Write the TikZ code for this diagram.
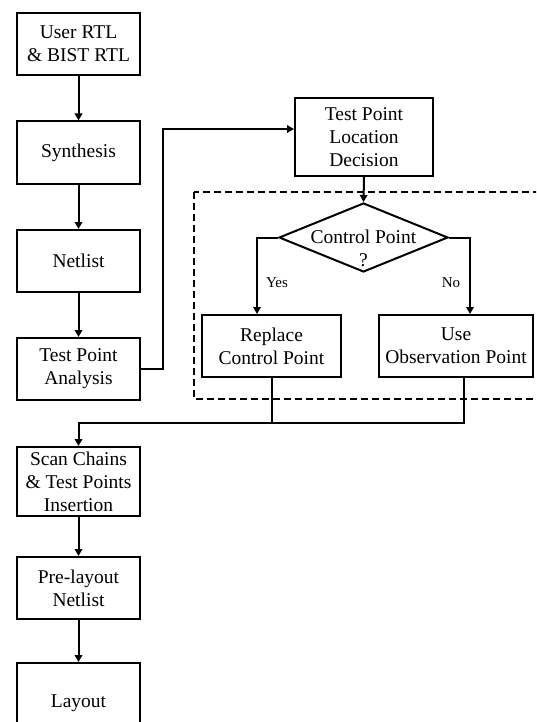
\documentclass[tikz,border=0pt]{standalone}
\usepackage{fontspec}
\setmainfont{Liberation Serif}
\usetikzlibrary{arrows.meta,shapes.geometric}
\begin{document}
\begin{tikzpicture}[x=1pt,y=-1pt,
  box/.style={draw,line width=2pt,fill=white,align=center,inner sep=0pt,font=\fontsize{19.5}{23}\selectfont},
  lbox/.style={box,minimum width=123pt,minimum height=62pt},
  arr/.style={line width=2pt,-{Triangle[length=7pt,width=7.5pt]}},
  ln/.style={line width=2pt},
  dashbox/.style={line width=2pt,dash pattern=on 7pt off 4pt},
  lbl/.style={font=\fontsize{15}{18}\selectfont,inner sep=0pt},
  dtext/.style={align=center,inner sep=0pt,font=\fontsize{19.5}{23}\selectfont}]
\useasboundingbox (0,0) rectangle (536,722);
\clip (0,0) rectangle (536,722);
\fill[white] (0,0) rectangle (536,722);
% dashed region
\draw[dashbox] (194,192) rectangle (545,399);
% left column
\node[lbox] (u) at (78.5,44) {User RTL\\\& BIST RTL};
\node[lbox] (syn) at (78.5,152.5) {Synthesis};
\node[lbox] (net) at (78.5,261) {Netlist};
\node[lbox] (tpa) at (78.5,369) {Test Point\\Analysis};
\node[lbox,minimum height=69pt] (scan) at (78.5,481.5) {Scan Chains\\\& Test Points\\Insertion};
\node[lbox] (pre) at (78.5,588) {Pre-layout\\Netlist};
\node[lbox,minimum height=80pt] (lay) at (78.5,703) {Layout};
% right part
\node[box,minimum width=138pt,minimum height=78pt] (tpld) at (364,137) {Test Point\\Location\\Decision};
\node[draw,line width=2pt,shape=diamond,inner sep=0pt,minimum width=169pt,minimum height=69pt] (dia) at (363.5,237.5) {};
\node[dtext] (dt) at (363.5,248) {Control Point\\?};
\node[box,minimum width=139pt,minimum height=62pt] (repl) at (271.5,346) {Replace\\Control Point};
\node[box,minimum width=154pt,minimum height=62pt] (use) at (456,346) {Use\\Observation Point};
% connectors
\draw[arr] (u) -- (syn);
\draw[arr] (syn) -- (net);
\draw[arr] (net) -- (tpa);
\draw[arr] (scan) -- (pre);
\draw[arr] (pre) -- (lay);
\coordinate (k1) at (163,129);
\draw[arr] (tpa.east) -| (k1) -- (tpld.west |- k1);
\draw[arr] (tpld.south) -- (dia.north);
\coordinate (yl) at (257,300);
\coordinate (nl) at (470,300);
\draw[arr] (dia.west) -| (yl |- repl.north);
\draw[arr] (dia.east) -| (nl |- use.north);
\node[lbl] (yes) at (277,283) {Yes};
\node[lbl] (no) at (451,283) {No};
\coordinate (m) at (78.5,423);
\coordinate (ur) at (464,380);
\draw[ln] (repl.south) -- (repl.south |- m);
\draw[arr] (ur |- use.south) |- (m) -- (scan.north);
\end{tikzpicture}
\end{document}
